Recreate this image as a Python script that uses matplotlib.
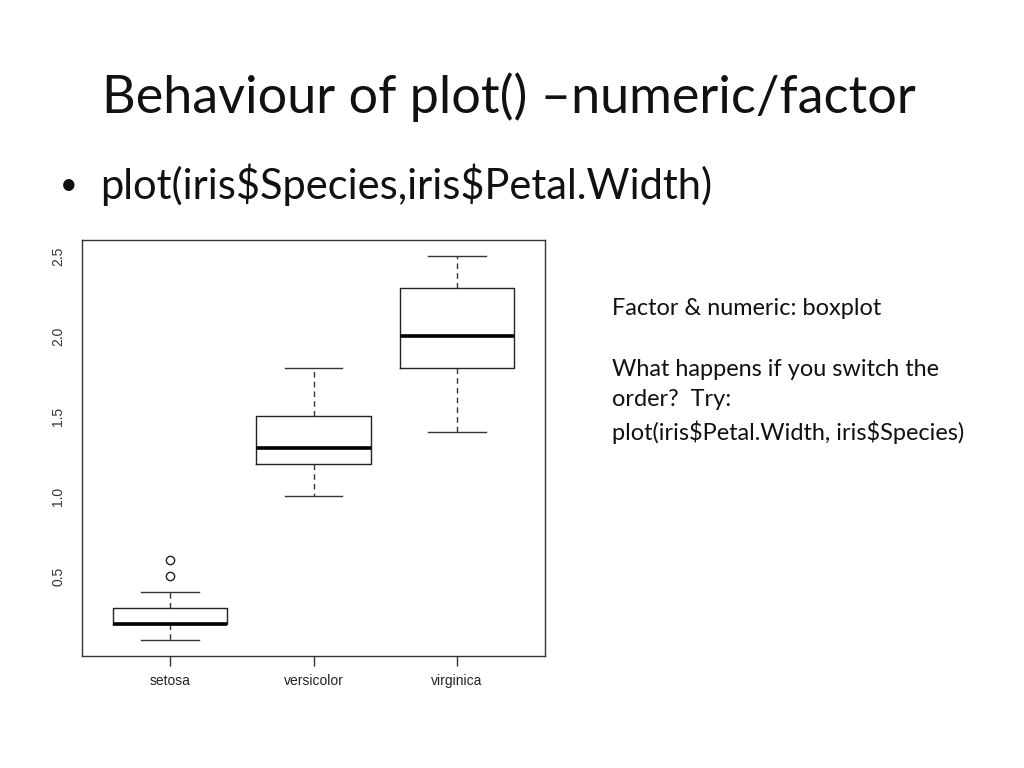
import matplotlib.pyplot as plt

# boxplot stats (iris petal width by species)
species = ['setosa', 'versicolor', 'virginica']
whisker_low = [0.1, 1.0, 1.4]
q1 = [0.2, 1.2, 1.8]
medians = [0.2, 1.3, 2.0]
q3 = [0.3, 1.5, 2.3]
whisker_high = [0.4, 1.8, 2.5]
outliers = [[0.5, 0.6], [], []]
y_ticks = [0.5, 1.0, 1.5, 2.0, 2.5]

plt.rcParams['text.usetex'] = False
plt.rcParams['text.parse_math'] = False

fig = plt.figure(figsize=(10.24, 7.68), dpi=100)
fig.patch.set_facecolor('white')

title_font = ['Lato', 'DejaVu Sans']
fig.text(102 / 1024, 1 - 97 / 768, 'Behaviour of plot() \u2013numeric/factor',
         fontsize=37.5, family=title_font, va='center', ha='left', color='#111111')
fig.text(60 / 1024, 1 - 185 / 768, '\u2022', fontsize=22, family=title_font,
         va='center', ha='left', color='#111111')
fig.text(100 / 1024, 1 - 185 / 768, 'plot(iris$Species,iris$Petal.Width)',
         fontsize=30, family=title_font, va='center', ha='left', color='#111111')

side_lines = [
    (308, 'Factor & numeric: boxplot'),
    (370, 'What happens if you switch the'),
    (400, 'order?  Try:'),
    (432, 'plot(iris$Petal.Width, iris$Species)'),
]
for ypix, txt in side_lines:
    fig.text(612 / 1024, 1 - ypix / 768, txt, fontsize=16.9, family=title_font,
             va='center', ha='left', color='#111111')

ax = fig.add_axes([82 / 1024, 1 - 656 / 768, 463 / 1024, 416 / 768])

stats = []
for i, name in enumerate(species):
    stats.append({
        'label': name,
        'whislo': whisker_low[i],
        'q1': q1[i],
        'med': medians[i],
        'q3': q3[i],
        'whishi': whisker_high[i],
        'fliers': outliers[i],
    })

ax.bxp(stats, positions=[1, 2, 3], widths=0.8, showfliers=True,
       boxprops=dict(color='#222222', linewidth=1.0),
       medianprops=dict(color='black', linewidth=2.6),
       whiskerprops=dict(color='#333333', linewidth=1.0, linestyle=(0, (4, 3))),
       capprops=dict(color='#333333', linewidth=1.0),
       capwidths=0.4,
       flierprops=dict(marker='o', markerfacecolor='none', markeredgecolor='#222222',
                       markersize=6, markeredgewidth=1.0))

ax.set_xlim(0.387, 3.613)
ax.set_ylim(0.0, 2.6)
ax.set_yticks(y_ticks)
ax.set_yticklabels(['0.5', '1.0', '1.5', '2.0', '2.5'], rotation=90, va='center',
                   family='Liberation Sans', fontsize=10, color='#333333')
ax.set_xticks([1, 2, 3])
ax.set_xticklabels(species, family='Liberation Sans', fontsize=10, color='#222222')
ax.tick_params(axis='y', length=0, pad=12)
ax.tick_params(axis='x', length=7, width=1, color='#333333', pad=6)
for s in ax.spines.values():
    s.set_color('#333333')
    s.set_linewidth(1.0)

fig.savefig('out.png', dpi=100, facecolor='white')
